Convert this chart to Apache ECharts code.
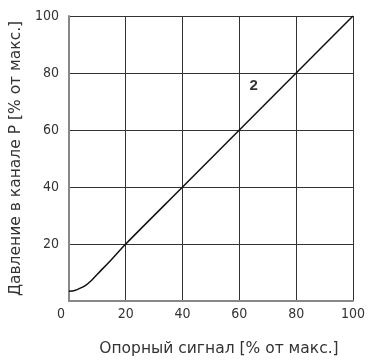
<!DOCTYPE html>
<html><head><meta charset="utf-8">
<script src="https://cdn.jsdelivr.net/npm/echarts@6/dist/echarts.min.js"></script>
<style>html,body{margin:0;padding:0;background:#fff}#c{width:368px;height:362px}</style>
</head><body><div id="c"></div>
<script>
const signalX = [0, 2, 4, 6, 8, 10, 15, 20, 40, 60, 80, 100];
const pressureY = [3.4, 3.7, 4.5, 5.6, 7.3, 9.4, 14.6, 20, 40, 60, 80, 100];
const curveLabel = ['2'];
const labelPos = [65, 75.5];
const xTicks = [0, 20, 40, 60, 80, 100];
const yTicks = [0, 20, 40, 60, 80, 100];
const xName = 'Опорный сигнал [% от макс.]';
const yName = 'Давление в канале P [% от макс.]';

const tickFont = '"DejaVu Sans Condensed", "DejaVu Sans", sans-serif';
const nameFont = '"DejaVu Sans", sans-serif';
const chart = echarts.init(document.getElementById('c'));
chart.setOption({
  animation: false,
  grid: {left: 68, right: 11, top: 16, bottom: 58},
  xAxis: {
    type: 'value', min: xTicks[0], max: xTicks[xTicks.length-1], interval: 20,
    name: xName, nameLocation: 'middle', nameGap: 40,
    nameTextStyle: {fontFamily: nameFont, fontSize: 15.5, color: '#333', padding: [0, 0, 0, 16]},
    axisLine: {show: true, lineStyle: {color: '#888', width: 2}},
    axisTick: {show: false},
    axisLabel: {fontFamily: tickFont, fontSize: 14, color: '#333', margin: 6,
      formatter: v => v === 0 ? '{z|0}' : String(v),
      rich: {z: {fontFamily: tickFont, fontSize: 14, color: '#333', padding: [0, 16, 0, 0]}}},
    splitLine: {show: true, lineStyle: {color: '#333', width: 1}}
  },
  yAxis: {
    type: 'value', min: yTicks[0], max: yTicks[yTicks.length-1], interval: 20,
    name: yName, nameLocation: 'middle', nameGap: 43,
    nameTextStyle: {fontFamily: nameFont, fontSize: 15.5, color: '#333'},
    axisLine: {show: true, lineStyle: {color: '#888', width: 2}},
    axisTick: {show: false},
    axisLabel: {fontFamily: tickFont, fontSize: 14, color: '#333', margin: 10, showMinLabel: false,
      formatter: v => v === 0 ? '' : String(v)},
    splitLine: {show: true, lineStyle: {color: '#333', width: 1}}
  },
  series: [{
    type: 'line', smooth: 0.3, symbol: 'none',
    data: signalX.map((x, i) => [x, pressureY[i]]),
    lineStyle: {color: '#111', width: 1.5}
  }, {
    type: 'scatter', symbolSize: 0,
    data: [labelPos],
    label: {show: true, position: 'inside', formatter: curveLabel[0],
      fontFamily: 'Liberation Sans, Arial, sans-serif', fontWeight: 'bold', fontSize: 15, color: '#000'}
  }]
});
</script></body></html>
